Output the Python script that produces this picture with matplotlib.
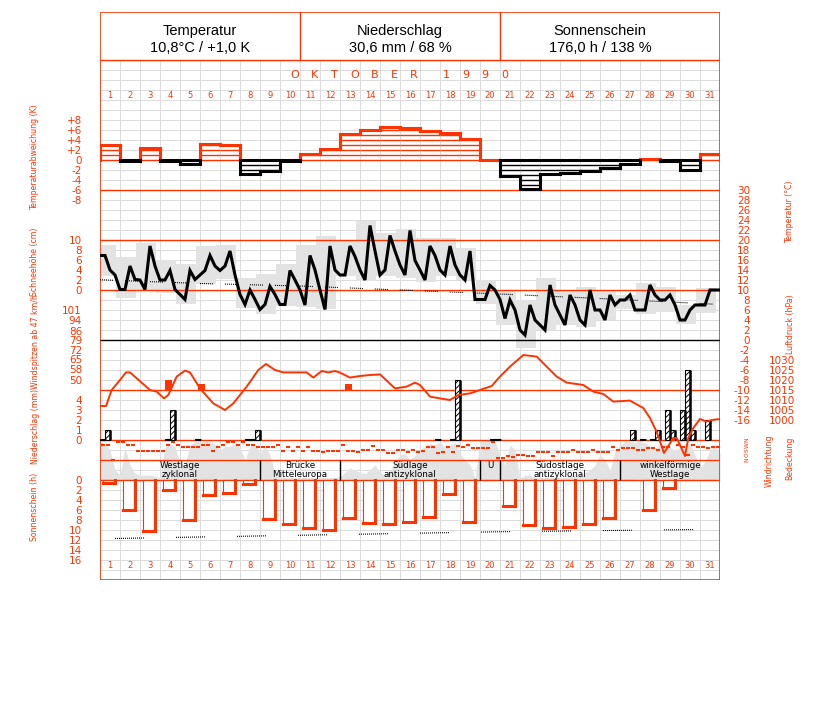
import matplotlib
matplotlib.use("Agg")
import matplotlib.pyplot as plt
from matplotlib.patches import Rectangle
import numpy as np

plt.rcParams['lines.scale_dashes'] = False
plt.rcParams['hatch.linewidth'] = 0.7
plt.rcParams['font.family'] = ['DejaVu Sans']

RED = '#FF3300'
GRID = '#DCDCDC'
FILL = '#E3E3E3'
ARIAL = ['Liberation Sans', 'DejaVu Sans']

# ---------------- data ----------------
days = list(range(1, 32))
header_titles = ["Temperatur", "Niederschlag", "Sonnenschein"]
header_values = ["10,8°C / +1,0 K", "30,6 mm / 68 %", "176,0 h / 138 %"]
month_title = "OKTOBER 1990"

# daily temperature anomaly (K)
anomaly = [3.0, -0.1, 2.5, -0.1, -0.7, 3.2, 3.0, -2.8, -2.1, -0.1,
           1.3, 2.2, 5.3, 6.1, 6.7, 6.5, 5.9, 5.5, 4.2, 0.1,
           -3.1, -5.7, -2.7, -2.6, -2.2, -1.5, -0.7, 0.3, -0.1, -1.9, 1.3]

# temperature every 6 hours (°C), 1 Oct 0h ... 1 Nov 0h
temp_6h = [16.9, 16.9, 14.0, 13.0, 10.1, 10.1, 14.8, 12.1, 12.0, 10.1, 18.8, 14.8,
           12.0, 12.0, 13.9, 10.1, 9.1, 8.1, 13.9, 12.1, 13.0, 13.9, 16.9, 14.8,
           13.9, 14.8, 17.8, 13.0, 9.1, 7.1, 10.0, 8.1, 6.1, 7.1, 10.7, 9.1,
           7.1, 7.1, 13.9, 12.0, 10.0, 7.0,
           16.9, 14.0, 10.0, 6.1, 18.8, 14.0, 13.0, 13.0, 18.8, 16.7, 14.0, 12.0,
           22.9, 17.8, 13.0, 14.0, 20.9, 17.8, 15.0, 13.0, 21.9, 15.9, 14.0, 12.0,
           18.8, 16.9, 14.0, 13.0, 18.8, 15.0, 13.0, 12.0, 17.8, 8.1, 8.1, 8.1,
           10.9, 10.0, 8.1, 4.3, 8.0, 6.0, 2.0, 1.0, 7.0, 4.0, 3.0, 2.0,
           11.0, 7.0, 5.0, 3.0, 9.0, 7.0, 4.0, 3.0, 10.0, 6.0, 6.0, 4.0,
           9.0, 7.0, 8.0, 8.0, 9.0, 6.0, 6.0, 6.0, 11.0, 9.0, 8.0, 8.0,
           9.0, 7.0, 4.0, 4.0, 6.0, 7.0, 7.0, 7.0, 10.0, 10.0, 10.0]

# daily min / max (grey boxes)
temp_min = [12.8, 8.5, 10.0, 9.5, 7.3, 11.3, 12.3, 6.5, 5.3, 6.8,
            6.7, 6.3, 12.8, 11.9, 12.8, 12.5, 11.7, 12.8, 12.0, 7.2,
            3.0, -1.5, 2.0, 3.0, 2.7, 4.0, 6.3, 5.3, 5.7, 3.3, 5.5]
temp_max = [19.1, 16.7, 19.5, 16.1, 15.2, 18.8, 19.0, 12.5, 13.3, 15.2,
            19.0, 20.8, 20.1, 23.9, 21.5, 22.3, 20.5, 20.5, 18.5, 12.1,
            10.0, 8.0, 12.5, 10.0, 10.7, 10.0, 9.0, 11.5, 10.7, 7.0, 10.5]

# long-term mean temperature
temp_norm_day = [0, 5, 10, 15, 20, 25, 31]
temp_norm = [12.05, 11.3, 10.8, 10.0, 9.2, 8.3, 7.1]

# wind gusts >= 47 km/h
gust_day = [3.25, 4.92, 12.25]
gust_kmh = [50, 47, 47]

# air pressure (hPa)
press_day = [0, 0.3, 0.585, 1.0, 1.3, 1.5, 2.5, 2.835, 3.2, 3.415, 3.835, 4.25, 4.5,
             5.0, 5.665, 6.25, 6.665, 7.335, 7.915, 8.3, 8.75, 9.165, 10.0, 10.335,
             10.665, 11.085, 11.415, 11.75, 12.0, 12.5, 13.0, 13.5, 14.0, 14.75,
             15.335, 15.75, 16.0, 16.5, 17.0, 17.5, 17.915, 18.5, 19.085, 19.585,
             20.0, 20.5, 21.165, 21.835, 22.835, 23.335, 24.165, 24.665, 25.165,
             25.665, 26.5, 27.165, 27.5, 27.835, 28.2, 28.665, 28.835, 29.25,
             29.415, 29.665, 30.0, 30.335, 30.585, 31.0]
press_hpa = [1007, 1007, 1015, 1020, 1023.8, 1023.8, 1015, 1014.2, 1010.8, 1012.5,
             1021.7, 1024.7, 1023.8, 1015.8, 1008.3, 1005, 1008.3, 1016.7, 1025,
             1028, 1025, 1023.8, 1023.8, 1023.8, 1021.2, 1024.5, 1023.8, 1024.5,
             1023.7, 1021.2, 1022, 1022.5, 1022.8, 1015.8, 1016.7, 1018.7, 1017.5,
             1011.7, 1010.8, 1010, 1012.5, 1013.3, 1015.3, 1017, 1021.7, 1026.7,
             1032.5, 1031.7, 1021.7, 1018.7, 1017.5, 1014.2, 1013, 1009.2, 1009.7,
             1006, 1001, 994, 983.5, 991, 991, 982, 991, 996, 1000.5, 999.2,
             1000, 1000.5]

# precipitation (6-hour slots)
precip_day = [0.0, 0.25, 3.25, 3.5, 4.75, 7.25, 7.5, 7.75, 16.75, 17.5, 17.75,
              19.5, 19.75, 26.5, 27.0, 27.5, 27.75, 28.25, 28.5, 29.0, 29.25,
              29.5, 30.25]
precip_mm = [0.15, 1.0, 0.15, 3.0, 0.15, 0.15, 0.15, 1.0, 0.15, 0.15, 6.0,
             0.15, 0.15, 1.0, 0.15, 0.15, 1.0, 3.0, 1.0, 3.0, 7.0, 1.0, 2.0]

# wind direction every 6 hours (degrees)
wind_dir = [270, 270, 0, 320, 320, 270, 270, 160, 160, 160, 160, 160,
            160, 270, 320, 270, 230, 230, 230, 230, 270, 270, 160, 230,
            270, 320, 320, 270, 320, 270, 270, 230, 230, 230, 230, 270,
            160, 230, 160, 230, 160, 230, 160, 160, 140, 160, 160, 160,
            270, 160, 160, 140, 180, 180, 250, 180, 180, 130, 130, 180,
            180, 150, 180, 150, 160, 230, 230, 130, 140, 230, 140, 250,
            240, 270, 220, 220, 220, 220, 330, 40, 40, 80, 50, 90,
            90, 80, 80, 140, 140, 140, 80, 140, 140, 140, 180, 140,
            140, 140, 180, 140, 140, 140, 240, 180, 220, 220, 220, 180,
            180, 220, 220, 180, 240, 240, 360, 270, 240, 90, 270, 240,
            230, 220, 230, 230]

# cloud cover every 6 hours (okta)
cloud = [8, 7, 6, 2, 1, 6.5, 3, 1.3, 1, 1,
         1, 0.7, 0.5, 6.5, 7.5, 6.5, 3.5, 3, 7, 7.7,
         7.7, 7.7, 7.7, 7, 6, 6.7, 6.7, 7.3, 6.5, 4,
         6.7, 7.3, 5.3, 6.7, 5, 1.5, 0.7, 0.5, 0.5, 0.5,
         0.5, 0.5, 0.5, 0.5, 0.5, 0.5, 0.5, 0.5, 0.7, 1.5,
         2.4, 2, 1.5, 1.3, 2, 3, 1.5, 1, 2, 3.5,
         5, 5.3, 4, 5, 6, 6.7, 7.3, 7, 7.7, 6.4,
         7, 7.5, 5.4, 4, 3, 0.5, 7.7, 8, 8, 7.7,
         5, 3, 7, 6, 0.4, 1, 1, 0.5, 0.5, 0.5,
         0.5, 0.5, 0.5, 0.5, 1, 1, 0.5, 1.5, 2, 3,
         5, 4, 2, 5.7, 7, 7.7, 7.7, 7.5, 7.7, 7.4,
         6.8, 6.4, 7, 7.4, 6.5, 6, 6.4, 7, 7.4, 5,
         2.4, 3.7, 6, 7, 5.4]

# daily sunshine (h)
sun_h = [0.5, 5.9, 10.1, 1.9, 7.9, 3.0, 2.5, 0.8, 7.7, 8.7,
         9.5, 9.9, 7.5, 8.5, 8.8, 8.3, 7.3, 2.7, 8.3, 0.0,
         5.2, 9.0, 9.5, 9.3, 8.8, 7.5, 0.0, 5.9, 1.5, 0.0, 0.0]
sun_norm_day = [0, 10, 20, 31]
sun_norm = [11.75, 11.05, 10.35, 9.85]

# Grosswetterlagen
weather_bounds = [0, 8, 12, 19, 20, 26, 31]
weather_labels = ["Westlage\nzyklonal", "Brücke\nMitteleuropa", "Südlage\nantizyklonal",
                  "U", "Südostlage\nantizyklonal", "winkelförmige\nWestlage"]

anom_ticks = [-8, -6, -4, -2, 0, 2, 4, 6, 8]
snow_ticks = [0, 2, 4, 6, 8, 10]
gust_ticks = [50, 58, 65, 72, 79, 86, 94, 101]
precip_ticks = [0, 1, 2, 3, 4]
sun_ticks = [0, 2, 4, 6, 8, 10, 12, 14, 16]
temp_ticks = list(range(-16, 31, 2))
press_ticks = [1000, 1005, 1010, 1015, 1020, 1025, 1030]
dir_ticks = [0, 90, 180, 270, 360]
dir_labels = ["N", "O", "S", "W", "N"]

# ---------------- layout ----------------
W, H = 827, 702
X0, X1, Y0, Y1 = 100, 720, 12, 580
fig = plt.figure(figsize=(W / 100, H / 100), dpi=100)
RECT = [X0 / W, 1 - Y1 / H, (X1 - X0) / W, (Y1 - Y0) / H]
PX = 0.72  # points per pixel


def pix_ax(z):
    ax = fig.add_axes(RECT, zorder=z)
    ax.set_xlim(X0, X1)
    ax.set_ylim(Y1, Y0)
    ax.axis('off')
    return ax


def val_ax(y_ref, ppu, z, ref=0.0):
    ax = fig.add_axes(RECT, zorder=z)
    ax.set_xlim(0, 31)
    ax.set_ylim(ref + (y_ref - Y1) / ppu, ref + (y_ref - Y0) / ppu)
    ax.patch.set_visible(False)
    for s in ax.spines.values():
        s.set_visible(False)
    ax.set_xticks([])
    ax.set_yticks([])
    ax.tick_params(length=0, labelcolor=RED, labelsize=7.5, pad=18 * PX)
    return ax


def dots(n, gap_px):
    return tuple([PX, PX] * (n - 1) + [PX, gap_px * PX])


# background: grid
base = pix_ax(0)
for y in range(60, 581, 10):
    base.plot([X0, X1], [y, y], color=GRID, lw=PX, solid_capstyle='butt')
for x in range(X0, X1 + 1, 20):
    base.plot([x, x], [60, 580], color=GRID, lw=PX, solid_capstyle='butt')
base.add_patch(Rectangle((X0, 460), X1 - X0, 20, fc='white', ec='none'))

# grey backgrounds
ax_tb = val_ax(340, 5, 1)
lo = np.array(temp_min)
hi = np.array(temp_max)
ax_tb.bar(np.arange(31) - 0.215, hi - lo, bottom=lo, width=1.0, align='edge',
          color=FILL, lw=0)
ax_cb = val_ax(480, 5, 1)
ax_cb.fill_between(np.arange(len(cloud)) * 0.25, 0, cloud, color=FILL, lw=0)

# reference lines and frame
lines = pix_ax(2)
for y in [60, 160, 190, 240, 290, 390, 440, 460, 480]:
    lines.plot([X0, X1], [y, y], color=RED, lw=1.0, solid_capstyle='butt')
lines.plot([X0, X1], [340, 340], color='black', lw=1.0, solid_capstyle='butt')
lines.add_patch(Rectangle((X0, Y0), X1 - X0, Y1 - Y0, fill=False, ec=RED, lw=1.2))
for x in [300, 500]:
    lines.plot([x, x], [Y0, 60], color=RED, lw=1.0)
for i, (t, v) in enumerate(zip(header_titles, header_values)):
    cx = 200 + 200 * i
    lines.text(cx, 31, t, ha='center', va='center', fontsize=10.5, family=ARIAL)
    lines.text(cx, 48, v, ha='center', va='center', fontsize=10.5, family=ARIAL)
word1, word2 = month_title.split(" ")
for i, ch in enumerate(word1):
    lines.text(295 + 19.8 * i, 75, ch, ha='center', va='center', color=RED, fontsize=8)
for i, ch in enumerate(word2):
    lines.text(446 + 19.6 * i, 75, ch, ha='center', va='center', color=RED, fontsize=8)
for d in days:
    cx = X0 + 20 * (d - 0.5)
    lines.text(cx, 95, str(d), ha='center', va='center', color=RED, fontsize=6)
    lines.text(cx, 565, str(d), ha='center', va='center', color=RED, fontsize=6)

# axis titles (condensed)
for (x, y, s) in [(35, 157, "Temperaturabweichung (K)"), (35, 262, "Schneehöhe (cm)"),
                  (35, 342, "Windspitzen ab 47 km/h"), (35, 426, "Niederschlag (mm)"),
                  (35, 507, "Sonnenschein (h)"), (790, 212, "Temperatur (°C)"),
                  (790, 324, "Luftdruck (hPa)"), (769, 461, "Windrichtung"),
                  (790, 458, "Bedeckung")]:
    lines.text(x, y, s, rotation=90, ha='center', va='center', color=RED,
               fontsize=6.2, family='DejaVu Sans', fontstretch='condensed',
               clip_on=False)

# ---------------- temperature anomaly ----------------
ax_an = val_ax(160, 5, 3)
ax_an.set_yticks(anom_ticks, [("+%d" % v if v > 0 else str(v)) for v in anom_ticks])
n = len(anomaly)
for k in range(1, 8):
    for i, v in enumerate(anomaly):
        if v >= k:
            ax_an.plot([i, i + 1], [k, k], color=RED, lw=1.0, solid_capstyle='butt')
        if v <= -k:
            ax_an.plot([i, i + 1], [-k, -k], color='black', lw=1.0, solid_capstyle='butt')
for i, v in enumerate(anomaly):
    col = RED if v > 0 else 'black'
    ax_an.plot([i, i + 1], [v, v], color=col, lw=2.2, solid_capstyle='projecting')
    if v < 0:
        ax_an.plot([i, i + 1], [0, 0], color='black', lw=2.2, solid_capstyle='projecting')
prev = [0] + anomaly
nxt = anomaly + [0]
for i in range(n + 1):
    a, b = prev[i], nxt[i]
    top, bot = max(a, b), min(a, b)
    if top > 0:
        ax_an.plot([i, i], [max(bot, 0), top], color=RED, lw=2.2, solid_capstyle='projecting')
    if bot < 0:
        ax_an.plot([i, i], [bot, min(top, 0)], color='black', lw=2.2, solid_capstyle='projecting')

# ---------------- temperature ----------------
ax_t = val_ax(340, 5, 3)
ax_t.yaxis.tick_right()
ax_t.set_yticks(temp_ticks, [str(v) for v in temp_ticks], ha='right')
ax_t.tick_params(pad=30 * PX)
ax_t.plot(np.arange(len(temp_6h)) * 0.25, temp_6h, color='black', lw=2.2,
          solid_joinstyle='miter')
ax_t.plot(temp_norm_day, temp_norm, color='black', lw=0.8,
          linestyle=(0, dots(7, 12)))

ax_snow = val_ax(290, 5, 3)
ax_snow.set_yticks(snow_ticks, [str(v) for v in snow_ticks])

# ---------------- gusts ----------------
ax_g = val_ax(380, 10 / 7.3, 3, ref=50)
ax_g.set_yticks(gust_ticks, [str(v) for v in gust_ticks])
ax_g.bar(gust_day, np.array(gust_kmh) - 42, bottom=42, width=0.33, align='edge',
         color=RED, lw=0)

# ---------------- pressure ----------------
ax_p = val_ax(390, 2, 4, ref=1015)
ax_p.yaxis.tick_right()
ax_p.set_yticks(press_ticks, [str(v) for v in press_ticks], ha='right')
ax_p.tick_params(pad=75 * PX)
ax_p.plot(press_day, press_hpa, color=RED, lw=1.4)

# ---------------- precipitation ----------------
ax_pr = val_ax(440, 10, 3)
ax_pr.set_yticks(precip_ticks, [str(v) for v in precip_ticks])
bw = 0.27
ax_pr.bar(precip_day, precip_mm, width=bw, align='edge', facecolor='white',
          edgecolor='black', lw=0.8, hatch='//////')
ax_pr.vlines(np.array(precip_day) + bw, 0, precip_mm, color='black', lw=1.8)

# ---------------- wind direction ----------------
ax_w = val_ax(460, 5 / 90, 3)
ax_w.yaxis.tick_right()
ax_w.set_yticks(dir_ticks, dir_labels, rotation=90, ha='center', va='center')
ax_w.tick_params(pad=27 * PX, labelsize=4.2)
ax_w.plot(np.arange(len(wind_dir)) * 0.25 + 0.125, wind_dir, ls='none', marker='_',
          ms=3.2, mew=1.5, color=RED)

# ---------------- weather types ----------------
ax_wt = val_ax(480, 5, 3)
ax_wt.vlines(weather_bounds[1:-1], 0, 4, color='black', lw=1.0)
for i, lab in enumerate(weather_labels):
    cx = (weather_bounds[i] + weather_bounds[i + 1]) / 2
    yy = 2.0 if "\n" in lab else 2.8
    ax_wt.text(cx, yy, lab, ha='center', va='center', fontsize=6.3,
               linespacing=0.95, multialignment='center')

# ---------------- sunshine ----------------
ax_s = val_ax(480, -5, 3)
ax_s.set_yticks(sun_ticks, [str(v) for v in sun_ticks])
sl, sw = 0.17, 0.6
ax_s.bar(np.arange(31) + sl, sun_h, width=sw, align='edge', facecolor='white',
         edgecolor=RED, lw=0.8)
for i, h in enumerate(sun_h):
    if h > 0:
        ax_s.plot([i + sl + sw, i + sl + sw, i + sl], [0, h, h], color=RED, lw=2.2,
                  solid_joinstyle='miter')
ax_s.plot(sun_norm_day, sun_norm, color='black', lw=0.8,
          linestyle=(46 * PX, dots(15, 32)))

fig.savefig("out.png", dpi=100)
